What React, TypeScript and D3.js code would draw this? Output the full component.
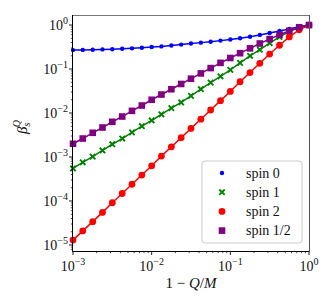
import React from 'react';
import * as d3 from 'd3';

// 1 - Q/M sample points (8 per decade)
const xValues = [
  0.001, 0.00133, 0.00178, 0.00237, 0.00316, 0.00422, 0.00562, 0.0075,
  0.01, 0.0133, 0.0178, 0.0237, 0.0316, 0.0422, 0.0562, 0.075,
  0.1, 0.133, 0.178, 0.237, 0.316, 0.422, 0.562, 0.75, 1.0,
];

const spin0 = [
  0.269, 0.272, 0.275, 0.279, 0.282, 0.288, 0.295, 0.305,
  0.316, 0.327, 0.343, 0.359, 0.38, 0.398, 0.417, 0.442,
  0.468, 0.501, 0.543, 0.596, 0.661, 0.733, 0.813, 0.912, 1.0,
];
const spin1 = [
  0.00055, 0.000759, 0.00102, 0.00141, 0.00195, 0.00263, 0.00363, 0.00501,
  0.00676, 0.00933, 0.0129, 0.0174, 0.0245, 0.0347, 0.049, 0.0684,
  0.0955, 0.138, 0.2, 0.275, 0.389, 0.537, 0.708, 0.881, 1.0,
];
const spin2 = [
  1.29e-5, 2.09e-5, 3.39e-5, 5.5e-5, 9.12e-5, 1.48e-4, 2.4e-4, 3.89e-4,
  6.31e-4, 1.05e-3, 1.7e-3, 2.75e-3, 4.47e-3, 7.24e-3, 0.0117, 0.0191,
  0.0309, 0.0513, 0.0832, 0.135, 0.219, 0.347, 0.537, 0.776, 1.0,
];
const spinHalf = [
  0.002, 0.00263, 0.00355, 0.00468, 0.00631, 0.00832, 0.0112, 0.0148,
  0.02, 0.0263, 0.0347, 0.0457, 0.0603, 0.0794, 0.105, 0.138,
  0.178, 0.229, 0.295, 0.38, 0.479, 0.603, 0.741, 0.891, 1.0,
];

const seriesNames = ['spin 0', 'spin 1', 'spin 2', 'spin 1/2'];
const seriesValues = [spin0, spin1, spin2, spinHalf];
const seriesColors = ['#0000ff', '#008000', '#ff0000', '#800080'];
const seriesMarkers = ['smallDot', 'cross', 'dot', 'square'];

const xTickExps = [-3, -2, -1, 0];
const yTickExps = [-5, -4, -3, -2, -1, 0];

const W = 334;
const H = 307;
const margin = { top: 15, right: 25, bottom: 56, left: 73 };
const FONT = '"Liberation Serif", "DejaVu Serif", serif';

function Marker({ kind, x, y, color }: { kind: string; x: number; y: number; color: string }) {
  if (kind === 'smallDot') return <circle cx={x} cy={y} r={2.2} fill={color} />;
  if (kind === 'dot') return <circle cx={x} cy={y} r={3.4} fill={color} />;
  if (kind === 'square') return <rect x={x - 3.3} y={y - 3.3} width={6.6} height={6.6} fill={color} />;
  const s = 2.7;
  return (
    <path d={`M${x - s},${y - s}L${x + s},${y + s}M${x - s},${y + s}L${x + s},${y - s}`}
      stroke={color} strokeWidth={1.9} fill="none" />
  );
}

function Pow10({ exp, x, y, anchor }: { exp: number; x: number; y: number; anchor: string }) {
  const e = exp < 0 ? `\u2212${-exp}` : `${exp}`;
  return (
    <text x={x} y={y} textAnchor={anchor} fontFamily={FONT} fontSize={14} fill="#111">
      10<tspan fontSize={10} dy={-6}>{e}</tspan>
    </text>
  );
}

export default function App() {
  const x = d3.scaleLog().domain([1e-3, 1]).range([margin.left, W - margin.right]);
  const y = d3.scaleLog().domain([7.3e-6, 1.69]).range([H - margin.bottom, margin.top]);

  const x0 = margin.left;
  const x1 = W - margin.right;
  const y0 = H - margin.bottom;
  const y1 = margin.top;

  const line = d3.line<[number, number]>().x(d => x(d[0])).y(d => y(d[1]));

  const xMinor: number[] = [];
  for (const e of [-3, -2, -1]) for (let k = 2; k <= 9; k++) xMinor.push(k * 10 ** e);
  const yMinor: number[] = [];
  for (const e of [-6, -5, -4, -3, -2, -1, 0]) for (let k = 2; k <= 9; k++) {
    const v = k * 10 ** e;
    if (v > 7.3e-6 && v < 1.69) yMinor.push(v);
  }

  const legendX = 202;
  const legendY = 161;

  return (
    <svg width={W} height={H} style={{ position: 'absolute', left: 0, top: 0, background: '#fff' }}>
      {seriesValues.map((vals, i) => (
        <g key={seriesNames[i]}>
          <path d={line(xValues.map((xv, j) => [xv, vals[j]]) as [number, number][]) || ''}
            fill="none" stroke={seriesColors[i]} strokeWidth={1.5} />
          {xValues.map((xv, j) => (
            <Marker key={j} kind={seriesMarkers[i]} x={x(xv)} y={y(vals[j])} color={seriesColors[i]} />
          ))}
        </g>
      ))}

      {/* spines */}
      <line x1={x0} x2={x1} y1={y1 + 0.5} y2={y1 + 0.5} stroke="#777" strokeWidth={1} />
      <line x1={x1 + 0.5} x2={x1 + 0.5} y1={y1} y2={y0} stroke="#555" strokeWidth={1} />
      <line x1={x0 - 0.5} x2={x0 - 0.5} y1={y1} y2={y0 + 0.5} stroke="#000" strokeWidth={1} />
      <line x1={x0 - 0.5} x2={x1 + 0.5} y1={y0 + 0.5} y2={y0 + 0.5} stroke="#000" strokeWidth={1} />

      {/* x ticks */}
      {xTickExps.map(e => (
        <g key={e}>
          <line x1={x(10 ** e)} x2={x(10 ** e)} y1={y0} y2={y0 + 4} stroke="#000" strokeWidth={0.9} />
          <Pow10 exp={e} x={x(10 ** e)} y={y0 + 20} anchor="middle" />
        </g>
      ))}
      {xMinor.map(v => (
        <line key={v} x1={x(v)} x2={x(v)} y1={y0} y2={y0 + 2.2} stroke="#000" strokeWidth={0.7} />
      ))}

      {/* y ticks */}
      {yTickExps.map(e => (
        <g key={e}>
          <line x1={x0} x2={x0 - 4} y1={y(10 ** e)} y2={y(10 ** e)} stroke="#000" strokeWidth={0.9} />
          <Pow10 exp={e} x={x0 - 5} y={y(10 ** e) + 5} anchor="end" />
        </g>
      ))}
      {yMinor.map(v => (
        <line key={v} x1={x0} x2={x0 - 2.2} y1={y(v)} y2={y(v)} stroke="#000" strokeWidth={0.7} />
      ))}

      {/* axis labels */}
      <text x={(x0 + x1) / 2} y={288} textAnchor="middle" fontFamily={FONT} fontSize={15} fill="#111">
        1 − <tspan fontStyle="italic">Q</tspan>/<tspan fontStyle="italic">M</tspan>
      </text>
      <text transform={`translate(27,${(y0 + y1) / 2 - 6}) rotate(-90)`} textAnchor="middle"
        fontFamily={FONT} fontSize={15} fontStyle="italic" fill="#111">
        β<tspan fontSize={10} dy={3}>s</tspan><tspan fontSize={10} dy={-10} dx={-4.5}>Q</tspan>
      </text>

      {/* legend */}
      <rect x={legendX} y={legendY} width={100} height={82} rx={3} fill="#fff" fillOpacity={0.8}
        stroke="#ccc" strokeWidth={1} />
      {seriesNames.map((name, i) => (
        <g key={name}>
          <Marker kind={seriesMarkers[i]} x={legendX + 20} y={legendY + 12 + i * 19.2}
            color={seriesColors[i]} />
          <text x={legendX + 44} y={legendY + 16.5 + i * 19.2} fontFamily={FONT} fontSize={14} fill="#111">
            {name}
          </text>
        </g>
      ))}
    </svg>
  );
}
